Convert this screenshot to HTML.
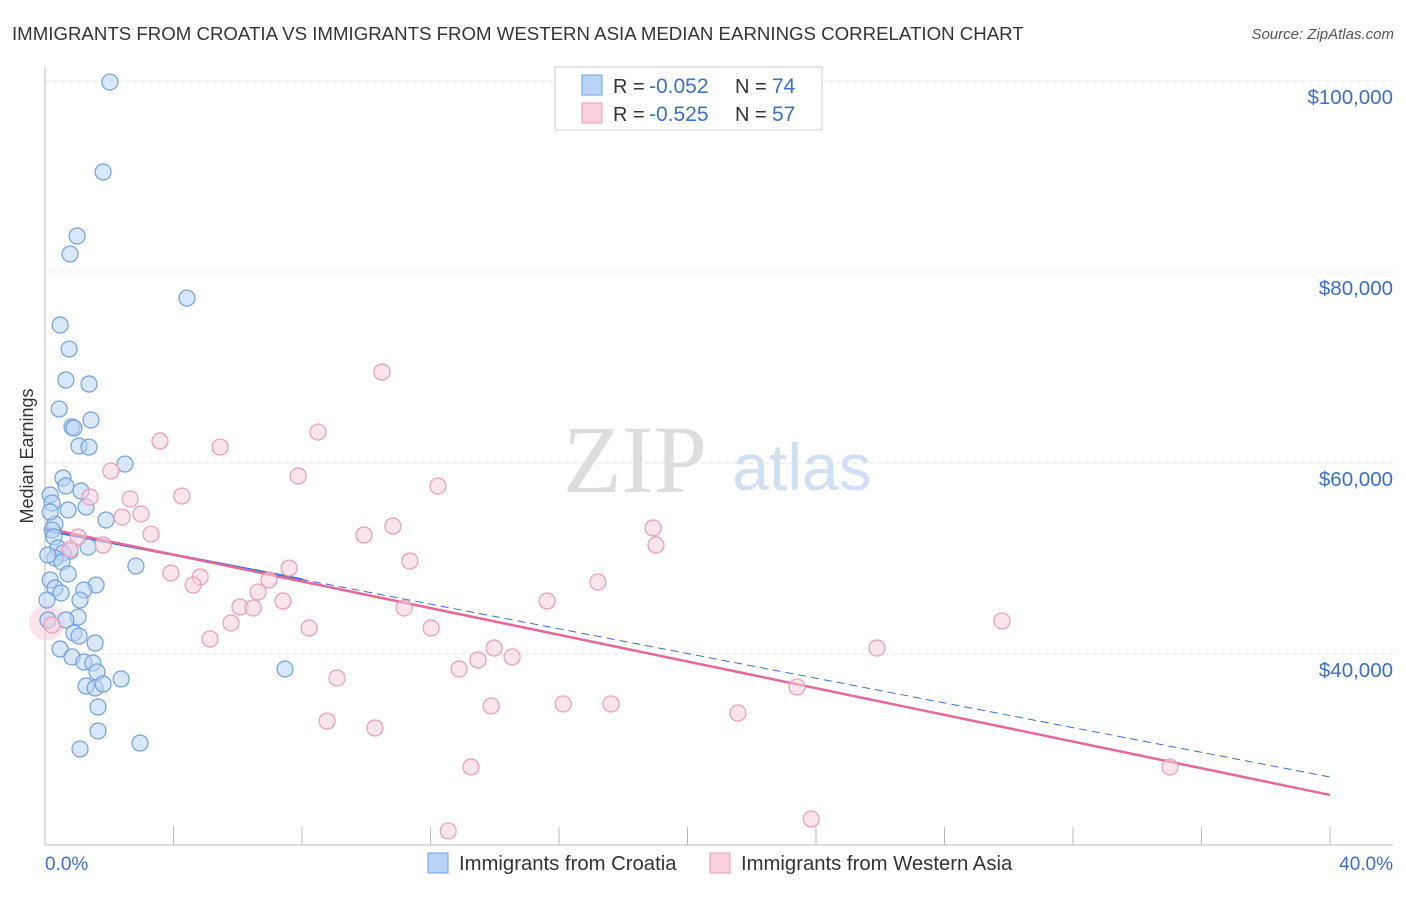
<!DOCTYPE html>
<html><head><meta charset="utf-8"><style>
body{margin:0;background:#fff;font-family:"Liberation Sans",sans-serif}
</style></head><body>
<svg id="chart" width="1406" height="892" xmlns="http://www.w3.org/2000/svg" font-family="Liberation Sans, sans-serif">
<text x="12" y="40" font-size="18.66" fill="#333">IMMIGRANTS FROM CROATIA VS IMMIGRANTS FROM WESTERN ASIA MEDIAN EARNINGS CORRELATION CHART</text>
<text x="1394" y="39" font-size="15" fill="#555" text-anchor="end" font-style="italic">Source: ZipAtlas.com</text>
<text transform="translate(33,456) rotate(-90)" font-size="18" fill="#333" text-anchor="middle">Median Earnings</text>
<g>
<text x="635" y="492" font-size="96" fill="#ddd" font-family="Liberation Serif, serif" text-anchor="middle">ZIP</text>
<text x="802" y="490" font-size="66" fill="#cfe0f5" text-anchor="middle">atlas</text>
</g>
<g id="grid"></g><g id="axes"></g><g id="trend"></g><g id="pts"></g>
<g>
<rect x="555" y="67" width="267" height="63" fill="#fff" stroke="#ccc"/>
<rect x="582" y="75" width="20" height="20" fill="#b8d3f5" stroke="#6fa0e0"/>
<rect x="582" y="103" width="20" height="20" fill="#fbd0dd" stroke="#ee9ab5"/>
<text x="613" y="93" font-size="20" fill="#333">R =</text>
<text x="649" y="93" font-size="21" fill="#3a6fd0">-0.052</text>
<text x="735" y="93" font-size="20" fill="#333">N =</text>
<text x="772" y="93" font-size="21" fill="#3a6fd0">74</text>
<text x="613" y="121" font-size="20" fill="#333">R =</text>
<text x="649" y="121" font-size="21" fill="#3a6fd0">-0.525</text>
<text x="735" y="121" font-size="20" fill="#333">N =</text>
<text x="772" y="121" font-size="21" fill="#3a6fd0">57</text>
</g>
<g>
<rect x="428" y="853" width="20" height="20" fill="#b8d3f5" stroke="#6fa0e0"/>
<text x="459" y="870" font-size="20.3" fill="#333">Immigrants from Croatia</text>
<rect x="710" y="853" width="20" height="20" fill="#fbd0dd" stroke="#ee9ab5"/>
<text x="741" y="870" font-size="20.3" fill="#333">Immigrants from Western Asia</text>
</g>
<text x="45" y="870" font-size="19" fill="#3a6fd0">0.0%</text>
<text x="1393" y="870" font-size="19" fill="#3a6fd0" text-anchor="end">40.0%</text>
</svg>
<script>
const yTicks=[40000,60000,80000,100000];
const yTickLabels=["$40,000","$60,000","$80,000","$100,000"];
const xTicks=[0,4,8,12,16,20,24,28,32,36,40];
const blueX=[2.02,1.81,1.0,0.78,4.42,0.47,0.75,0.65,1.37,0.44,1.43,0.84,0.9,1.06,1.37,2.49,0.56,0.65,1.12,0.16,0.22,1.28,0.72,1.9,0.31,0.22,0.28,0.4,1.34,0.78,0.56,0.31,0.53,2.83,0.72,0.16,1.59,0.31,1.21,0.5,1.09,1.03,0.65,0.9,1.06,1.56,0.47,0.84,1.21,1.49,1.62,7.47,2.37,1.28,1.56,1.81,1.65,1.65,2.96,1.09,0.06,0.09,0.16,0.09];
const blueY=[99890,90470,83770,81880,77270,74450,71930,68690,68270,65650,64500,63770,63660,61780,61670,59890,58430,57590,57070,56650,55810,55390,55080,54030,53610,52980,52250,51100,51200,50780,50570,50050,49630,49210,48380,47750,47220,46910,46700,46390,45650,43870,43560,42200,41880,41150,40520,39690,39160,39060,38120,38430,37380,36650,36440,36860,34450,31940,30680,30050,45650,43560,54870,50370];
const pinkX=[10.49,8.5,3.58,5.45,7.88,2.05,12.23,4.26,1.4,2.65,2.99,2.4,10.83,18.93,9.93,3.3,1.03,1.81,19.02,0.78,11.36,7.6,3.92,4.83,6.97,17.21,4.61,6.63,15.63,7.41,6.07,6.48,11.18,5.79,29.79,0.22,8.22,12.02,5.14,25.9,13.98,14.54,13.48,12.89,9.09,23.41,13.89,16.13,17.62,21.57,8.78,10.27,13.26,35.02,12.55,23.85];
const pinkY=[69530,63240,62300,61670,58640,59160,57590,56540,56440,56230,54660,54340,53400,53190,52460,52560,52250,51410,51410,50990,49740,49000,48480,48060,47750,47540,47220,46490,45550,45550,44920,44820,44820,43250,43460,43040,42720,42720,41570,40630,40630,39690,39370,38430,37490,36540,34560,34770,34770,33820,32980,32250,28170,28170,21470,22720];
const blueTrend=[52980,27120];
const pinkTrend=[53190,25240];
const NS="http://www.w3.org/2000/svg";
const X=v=>45+v*1285/40, Y=v=>654-(v-40000)*191/20000;
function mk(p,t,a){const e=document.createElementNS(NS,t);for(const k in a)e.setAttribute(k,a[k]);document.getElementById(p).appendChild(e);return e;}
yTicks.forEach((t,i)=>{
 const l=mk('grid','line',{x1:45,x2:1393,y1:Y(t),y2:Y(t),stroke:'#e3e3e3','stroke-dasharray':'4,4'});
 
 
 const tx=mk('grid','text',{x:1393,y:Y(t)+23,'font-size':20.5,fill:'#3a6fd0','text-anchor':'end'});tx.textContent=yTickLabels[i];
 
 
});
const ax=mk('axes','line',{x1:45,x2:45,y1:67,y2:845,stroke:'#bbb'});


const bx=mk('axes','line',{x1:45,x2:1393,y1:845,y2:845,stroke:'#bbb'});


xTicks.forEach(t=>{const l=mk('axes','line',{x1:X(t),x2:X(t),y1:827,y2:845,stroke:'#bbb'});
 
 });
function dot(x,y,fill,stroke,r,name){const c=mk('pts','circle',{cx:X(x),cy:Y(y),r:r,fill:fill,'fill-opacity':0.55,stroke:stroke,'stroke-width':1.2});
 
 }
const big=mk('pts','circle',{cx:X(0.06),cy:Y(43300),r:18,fill:'#fbd0dd','fill-opacity':0.6});


blueX.forEach((x,i)=>dot(x,blueY[i],'#b8d3f5','#6fa0e0',8,'croatia-point'));
pinkX.forEach((x,i)=>dot(x,pinkY[i],'#fbd0dd','#ee9ab5',8,'western-asia-point'));
const bt1=mk('trend','line',{x1:X(0),y1:Y(blueTrend[0]),x2:X(40),y2:Y(blueTrend[1]),stroke:'#3a6fd0','stroke-width':1,'stroke-dasharray':'8,5'});


const bf=x=>blueTrend[0]+(blueTrend[1]-blueTrend[0])*x/40;
const bt2=mk('trend','line',{x1:X(0),y1:Y(bf(0)),x2:X(8),y2:Y(bf(8)),stroke:'#3a6fd0','stroke-width':2.5});


const pt=mk('trend','line',{x1:X(0),y1:Y(pinkTrend[0]),x2:X(40),y2:Y(pinkTrend[1]),stroke:'#e8679a','stroke-width':2.5});


</script>
</body></html>
